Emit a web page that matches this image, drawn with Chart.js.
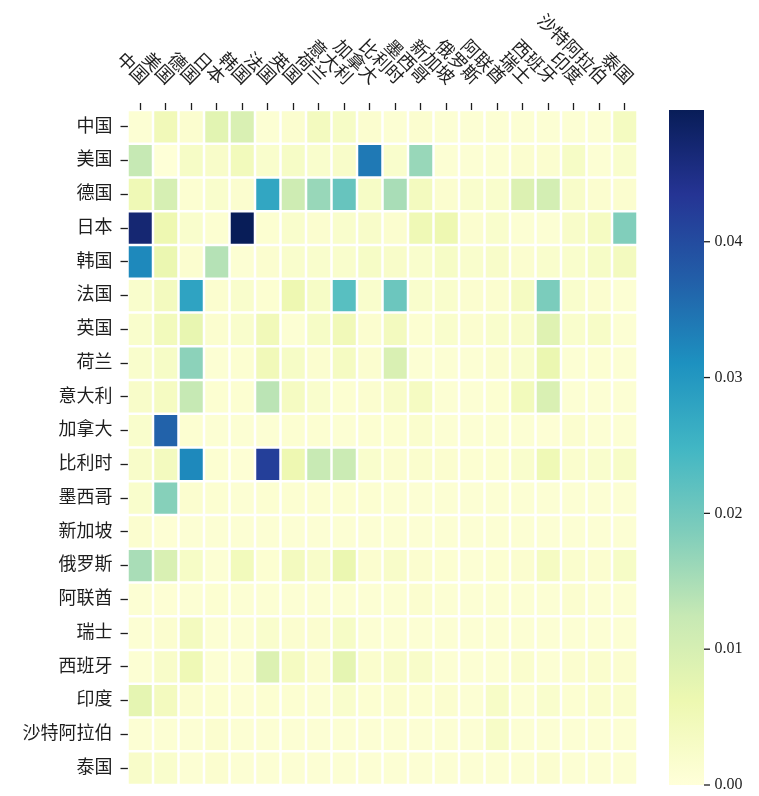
<!DOCTYPE html>
<html>
<head>
<meta charset="utf-8">
<script src="https://cdn.jsdelivr.net/npm/chart.js@4.4.1/dist/chart.umd.min.js"></script>
<style>
  html, body { margin: 0; padding: 0; background: #ffffff; }
  #wrap { width: 759px; height: 796px; }
</style>
</head>
<body>
<div id="wrap"><canvas id="heat" width="759" height="796"></canvas></div>
<script>
// Countries used for both axes (rows = exporter, columns = partner)
const countries = ['中国', '美国', '德国', '日本', '韩国', '法国', '英国', '荷兰', '意大利', '加拿大',
  '比利时', '墨西哥', '新加坡', '俄罗斯', '阿联酋', '瑞士', '西班牙', '印度', '沙特阿拉伯', '泰国'];

// One row of shares per country, in the same column order as `countries`
const rowChina       = [0.0010, 0.0050, 0.0015, 0.0080, 0.0095, 0.0010, 0.0015, 0.0040, 0.0030, 0.0015, 0.0010, 0.0015, 0.0010, 0.0010, 0.0010, 0.0010, 0.0010, 0.0010, 0.0010, 0.0038];
const rowUSA         = [0.0125, 0.0003, 0.0030, 0.0025, 0.0045, 0.0020, 0.0030, 0.0020, 0.0025, 0.0340, 0.0020, 0.0165, 0.0010, 0.0010, 0.0010, 0.0015, 0.0015, 0.0030, 0.0010, 0.0020];
const rowGermany     = [0.0055, 0.0100, 0.0012, 0.0020, 0.0015, 0.0275, 0.0112, 0.0165, 0.0210, 0.0030, 0.0150, 0.0040, 0.0015, 0.0020, 0.0020, 0.0090, 0.0105, 0.0025, 0.0015, 0.0015];
const rowJapan       = [0.0470, 0.0060, 0.0020, 0.0012, 0.0497, 0.0012, 0.0020, 0.0015, 0.0020, 0.0025, 0.0015, 0.0055, 0.0060, 0.0015, 0.0020, 0.0010, 0.0010, 0.0025, 0.0035, 0.0185];
const rowKorea       = [0.0320, 0.0065, 0.0015, 0.0140, 0.0010, 0.0015, 0.0020, 0.0020, 0.0020, 0.0030, 0.0025, 0.0020, 0.0030, 0.0020, 0.0025, 0.0015, 0.0020, 0.0020, 0.0030, 0.0040];
const rowFrance      = [0.0020, 0.0040, 0.0280, 0.0015, 0.0020, 0.0012, 0.0060, 0.0030, 0.0225, 0.0020, 0.0205, 0.0020, 0.0020, 0.0015, 0.0015, 0.0035, 0.0190, 0.0020, 0.0015, 0.0010];
const rowUK          = [0.0020, 0.0045, 0.0070, 0.0015, 0.0020, 0.0050, 0.0010, 0.0030, 0.0050, 0.0015, 0.0040, 0.0012, 0.0020, 0.0015, 0.0020, 0.0025, 0.0085, 0.0020, 0.0028, 0.0010];
const rowNetherlands = [0.0020, 0.0030, 0.0175, 0.0010, 0.0012, 0.0050, 0.0030, 0.0015, 0.0035, 0.0015, 0.0095, 0.0010, 0.0010, 0.0010, 0.0015, 0.0020, 0.0065, 0.0010, 0.0012, 0.0010];
const rowItaly       = [0.0025, 0.0035, 0.0125, 0.0012, 0.0012, 0.0135, 0.0035, 0.0020, 0.0012, 0.0015, 0.0025, 0.0035, 0.0010, 0.0010, 0.0012, 0.0045, 0.0095, 0.0010, 0.0010, 0.0010];
const rowCanada      = [0.0020, 0.0368, 0.0012, 0.0010, 0.0010, 0.0010, 0.0012, 0.0012, 0.0010, 0.0012, 0.0012, 0.0018, 0.0010, 0.0010, 0.0010, 0.0010, 0.0008, 0.0015, 0.0010, 0.0010];
const rowBelgium     = [0.0025, 0.0040, 0.0320, 0.0012, 0.0008, 0.0418, 0.0060, 0.0122, 0.0118, 0.0020, 0.0015, 0.0018, 0.0015, 0.0012, 0.0012, 0.0020, 0.0055, 0.0018, 0.0020, 0.0028];
const rowMexico      = [0.0020, 0.0180, 0.0015, 0.0012, 0.0010, 0.0012, 0.0012, 0.0012, 0.0012, 0.0012, 0.0010, 0.0010, 0.0010, 0.0010, 0.0010, 0.0010, 0.0010, 0.0010, 0.0010, 0.0010];
const rowSingapore   = [0.0015, 0.0008, 0.0010, 0.0010, 0.0010, 0.0010, 0.0010, 0.0010, 0.0010, 0.0010, 0.0010, 0.0010, 0.0010, 0.0010, 0.0010, 0.0010, 0.0010, 0.0010, 0.0010, 0.0010];
const rowRussia      = [0.0150, 0.0095, 0.0030, 0.0010, 0.0045, 0.0012, 0.0040, 0.0025, 0.0065, 0.0015, 0.0025, 0.0015, 0.0012, 0.0010, 0.0012, 0.0015, 0.0035, 0.0018, 0.0015, 0.0030];
const rowUAE         = [0.0010, 0.0008, 0.0010, 0.0012, 0.0010, 0.0010, 0.0010, 0.0010, 0.0010, 0.0010, 0.0010, 0.0015, 0.0010, 0.0010, 0.0010, 0.0010, 0.0010, 0.0015, 0.0010, 0.0010];
const rowSwitzerland = [0.0010, 0.0015, 0.0040, 0.0010, 0.0010, 0.0020, 0.0015, 0.0015, 0.0030, 0.0010, 0.0010, 0.0010, 0.0010, 0.0010, 0.0010, 0.0010, 0.0010, 0.0010, 0.0010, 0.0010];
const rowSpain       = [0.0010, 0.0025, 0.0055, 0.0010, 0.0010, 0.0090, 0.0035, 0.0015, 0.0075, 0.0018, 0.0025, 0.0025, 0.0010, 0.0010, 0.0010, 0.0018, 0.0010, 0.0015, 0.0018, 0.0015];
const rowIndia       = [0.0075, 0.0040, 0.0015, 0.0012, 0.0008, 0.0012, 0.0012, 0.0010, 0.0020, 0.0012, 0.0015, 0.0012, 0.0015, 0.0010, 0.0028, 0.0010, 0.0020, 0.0012, 0.0018, 0.0018];
const rowSaudi       = [0.0010, 0.0010, 0.0010, 0.0015, 0.0010, 0.0010, 0.0010, 0.0010, 0.0010, 0.0010, 0.0010, 0.0010, 0.0010, 0.0010, 0.0028, 0.0010, 0.0010, 0.0010, 0.0010, 0.0010];
const rowThailand    = [0.0025, 0.0020, 0.0010, 0.0015, 0.0010, 0.0010, 0.0010, 0.0010, 0.0010, 0.0010, 0.0010, 0.0010, 0.0010, 0.0010, 0.0010, 0.0010, 0.0015, 0.0010, 0.0010, 0.0010];

const matrix = [rowChina, rowUSA, rowGermany, rowJapan, rowKorea, rowFrance, rowUK, rowNetherlands,
  rowItaly, rowCanada, rowBelgium, rowMexico, rowSingapore, rowRussia, rowUAE, rowSwitzerland,
  rowSpain, rowIndia, rowSaudi, rowThailand];

// Colour bar tick values
const colorbarTicks = [0, 0.01, 0.02, 0.03, 0.04];

// Colour scale runs from 0 up to the largest share
const vmax = Math.max(...matrix.flat());

// YlGnBu colour ramp
const ylgnbu = ['#ffffd9', '#edf8b1', '#c7e9b4', '#7fcdbb', '#41b6c4', '#1d91c0', '#225ea8', '#253494', '#081d58'];
const rampRgb = ylgnbu.map(h => [1, 3, 5].map(k => parseInt(h.slice(k, k + 2), 16)));

function colorFor(v) {
  const t = Math.min(1, Math.max(0, v / vmax)) * (rampRgb.length - 1);
  const i = Math.min(rampRgb.length - 2, Math.floor(t));
  const f = t - i;
  const a = rampRgb[i], b = rampRgb[i + 1];
  const c = a.map((x, k) => Math.round(x + (b[k] - x) * f));
  return `rgb(${c[0]},${c[1]},${c[2]})`;
}

const FONT_FAMILY = '"Liberation Serif", "Noto Sans CJK SC", serif';
const TEXT_COLOR = '#1e1e1e';

// Side axes keep their fixed widths and must not shrink the grid vertically
function fixWidth(width) {
  return s => {
    s.width = width;
    s.paddingTop = 0;
    s.paddingBottom = 0;
  };
}

// Rotated column names above the grid, plus the colour bar beside it
const extras = {
  id: 'extras',
  afterDraw(chart) {
    const { ctx, scales: { x, cb } } = chart;
    ctx.save();

    ctx.font = `18px ${FONT_FAMILY}`;
    ctx.fillStyle = TEXT_COLOR;
    ctx.textAlign = 'right';
    ctx.textBaseline = 'middle';
    countries.forEach((name, i) => {
      const px = x.getPixelForTick(i);
      ctx.save();
      ctx.translate(px + 4, x.bottom - 28);
      ctx.rotate(Math.PI / 4);
      ctx.fillText(name, 0, 0);
      ctx.restore();
    });

    const top = cb.getPixelForValue(vmax);
    const bottom = cb.getPixelForValue(0);
    const barLeft = 669, barWidth = 35;
    const grad = ctx.createLinearGradient(0, bottom, 0, top);
    ylgnbu.forEach((c, k) => grad.addColorStop(k / (ylgnbu.length - 1), c));
    ctx.fillStyle = grad;
    ctx.fillRect(barLeft, top, barWidth, bottom - top);

    ctx.strokeStyle = TEXT_COLOR;
    ctx.lineWidth = 1.3;
    colorbarTicks.forEach(t => {
      const py = cb.getPixelForValue(t);
      ctx.beginPath();
      ctx.moveTo(barLeft + barWidth, py);
      ctx.lineTo(barLeft + barWidth + 6, py);
      ctx.stroke();
    });
    ctx.restore();
  }
};

new Chart(document.getElementById('heat'), {
  type: 'bar',
  data: {
    labels: countries,
    datasets: countries.map((name, r) => ({
      label: name,
      data: countries.map(() => [r, r + 1]),
      backgroundColor: matrix[r].map(colorFor),
      borderColor: '#ffffff',
      borderWidth: 1.25,
      borderSkipped: false,
      inflateAmount: 0,
      barPercentage: 1,
      categoryPercentage: 1
    }))
  },
  options: {
    responsive: false,
    animation: false,
    events: [],
    layout: { padding: { top: 0, left: 0, right: 0, bottom: 11 } },
    plugins: { legend: { display: false }, tooltip: { enabled: false } },
    scales: {
      x: {
        type: 'category',
        position: 'top',
        stacked: true,
        border: { display: false },
        grid: { display: true, drawOnChartArea: false, drawTicks: true, tickLength: 7,
                tickWidth: 1.3, tickColor: TEXT_COLOR, offset: false },
        ticks: { display: false },
        afterFit(s) { s.height = 110; }
      },
      y: {
        type: 'linear',
        position: 'left',
        min: 0,
        max: countries.length,
        reverse: true,
        border: { display: false },
        grid: { display: true, drawOnChartArea: false, drawTicks: true, tickLength: 7,
                tickWidth: 1.3, tickColor: TEXT_COLOR },
        afterBuildTicks(axis) { axis.ticks = countries.map((_, i) => ({ value: i + 0.5 })); },
        ticks: {
          autoSkip: false,
          padding: 8,
          color: TEXT_COLOR,
          font: { family: FONT_FAMILY, size: 18 },
          callback: v => countries[Math.floor(v)]
        },
        afterFit: fixWidth(127.5)
      },
      cb: {
        type: 'linear',
        position: 'right',
        min: 0,
        max: vmax,
        border: { display: false },
        grid: { display: false, drawTicks: false },
        afterBuildTicks(axis) { axis.ticks = colorbarTicks.map(v => ({ value: v })); },
        ticks: {
          autoSkip: false,
          padding: 77,
          color: TEXT_COLOR,
          font: { family: FONT_FAMILY, size: 16 },
          callback: v => Number(v).toFixed(2)
        },
        afterFit: fixWidth(121.5)
      }
    }
  },
  plugins: [extras]
});
</script>
</body>
</html>
